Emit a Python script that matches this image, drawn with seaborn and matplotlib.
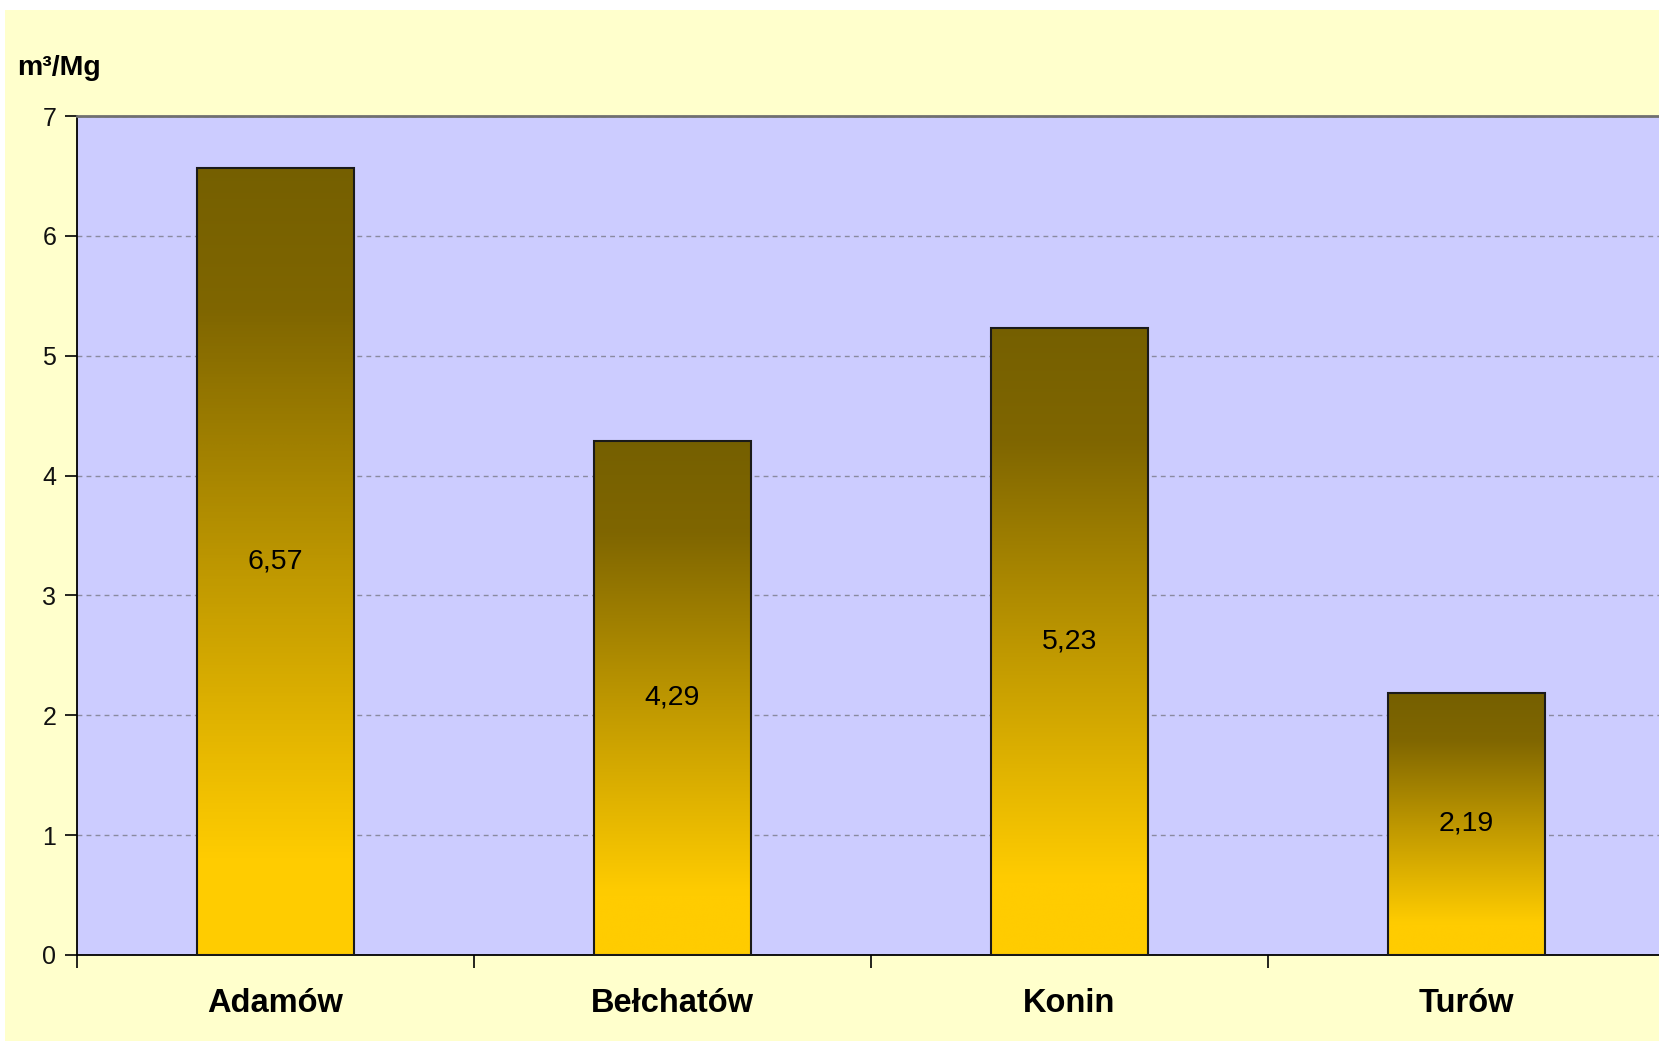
import numpy as np
import pandas as pd
import matplotlib
matplotlib.use("Agg")
import matplotlib.pyplot as plt
import seaborn as sns
from matplotlib.colors import LinearSegmentedColormap

categories = ["Adamów", "Bełchatów", "Konin", "Turów"]
values = [6.57, 4.29, 5.23, 2.19]
value_labels = ["6,57", "4,29", "5,23", "2,19"]
y_ticks = [0, 1, 2, 3, 4, 5, 6, 7]
unit_label = "m³/Mg"

sns.set_style("white")
plt.rcParams["font.family"] = ["Liberation Sans", "DejaVu Sans"]
plt.rcParams["text.color"] = "black"
plt.rcParams["xtick.color"] = "black"
plt.rcParams["ytick.color"] = "black"

W, H = 1659, 1041
fig = plt.figure(figsize=(W / 100, H / 100), dpi=100)
fig.patch.set_facecolor("white")

bg = fig.add_axes([5 / W, 0, 1 - 5 / W, 1 - 10 / H], zorder=-5)
bg.set_facecolor("#FFFFCC")
bg.set_xticks([]); bg.set_yticks([])
for s in bg.spines.values():
    s.set_visible(False)

left, right, bottom, top = 77, 1665, 955, 116
ax = fig.add_axes([left / W, 1 - bottom / H, (right - left) / W, (bottom - top) / H], zorder=1)
ax.set_facecolor("#CCCCFF")

df = pd.DataFrame({"cat": categories, "val": values})
sns.barplot(data=df, x="cat", y="val", ax=ax, width=0.395, color="#FFCC00",
            edgecolor="#1a1a1a", linewidth=1.5, zorder=3)

cmap = LinearSegmentedColormap.from_list("grad", [
    (0.0, (1.0, 0.80, 0.0)),
    (0.12, (1.0, 0.80, 0.0)),
    (0.5, (0.74, 0.59, 0.0)),
    (0.82, (0.50, 0.40, 0.0)),
    (1.0, (0.46, 0.375, 0.0)),
])
grad = np.linspace(0, 1, 256).reshape(-1, 1)
for p in ax.patches:
    x0 = p.get_x(); w = p.get_width(); h = p.get_height()
    im = ax.imshow(grad, extent=[x0, x0 + w, 0, h], origin="lower", aspect="auto",
                   cmap=cmap, zorder=3.5, interpolation="bicubic")
    im.set_clip_path(p)
    p.set_facecolor("none")
    p.set_zorder(4)

for i, (v, lab) in enumerate(zip(values, value_labels)):
    ax.text(i, v / 2, lab, ha="center", va="center", fontsize=20.5, color="black", zorder=6)

ax.set_xlim(-0.5, 3.5)
ax.set_ylim(0, 7)
ax.set_yticks(y_ticks)
ax.set_yticklabels([str(t) for t in y_ticks], fontsize=18, color="#111111")
ax.yaxis.grid(True, linestyle=(0, (3.5, 3)), color="#8a8aa0", linewidth=1.0)
ax.set_axisbelow(True)
ax.set_xticks(range(len(categories)))
ax.set_xticklabels(categories, fontsize=23.5, fontweight="bold", color="black")
ax.set_xticks([-0.5, 0.5, 1.5, 2.5, 3.5], minor=True)
ax.tick_params(axis="x", which="major", length=0, pad=24)
ax.tick_params(axis="x", which="minor", length=9, width=1.2, direction="out", color="black", bottom=True)
ax.tick_params(axis="y", length=9, width=1.2, direction="out", color="black", pad=6, left=True)
ax.set_xlabel(""); ax.set_ylabel("")

for s in ["left", "bottom"]:
    ax.spines[s].set_visible(True)
    ax.spines[s].set_color("black")
    ax.spines[s].set_linewidth(1.3)
ax.spines["top"].set_visible(True)
ax.spines["top"].set_color("#707070")
ax.spines["top"].set_linewidth(2)
ax.spines["right"].set_visible(False)

fig.text(17 / W, 1 - 68 / H, unit_label, fontsize=20.5, fontweight="bold", ha="left", va="center",
         color="black", zorder=10)

fig.savefig("out.png", dpi=100, facecolor=fig.get_facecolor())
